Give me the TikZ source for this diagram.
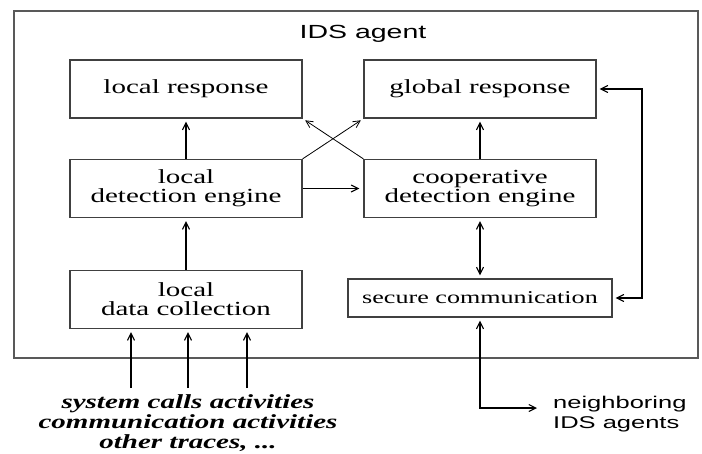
\documentclass[tikz,border=0pt]{standalone}
\usepackage{fontspec}
\usetikzlibrary{arrows.meta}
\newfontfamily\boxfont[FakeStretch=1.45]{Liberation Serif}
\newfontfamily\sansfnt[FakeStretch=1.5]{Liberation Sans}
\tikzset{
  blk/.style={draw=black!75, line width=1.3pt, fill=white, minimum width=232pt, minimum height=58pt,
    inner sep=0pt, align=center, font=\boxfont\fontsize{20}{19}\selectfont},
  arr/.style={line width=1.1pt, -{Straight Barb[length=7pt,width=7pt]}},
  darr/.style={line width=1.1pt, {Straight Barb[length=7pt,width=7pt]}-{Straight Barb[length=7pt,width=7pt]}},
}
\begin{document}
\begin{tikzpicture}[x=1pt,y=-1pt]
\useasboundingbox (0,0) rectangle (702,453);
\fill[white] (0,0) rectangle (702,453);
% outer box
\draw[draw=black!65, line width=1.8pt] (14,11) rectangle (698,358);
\node[font=\sansfnt\fontsize{19}{19}\selectfont] (title) at (363,34) {IDS agent};
% boxes
\node[blk] (lr) at (186,89) {local response};
\node[blk] (gr) at (480,89) {global response};
\node[blk] (lde) at (186,188.5) {local\\detection engine};
\node[blk] (cde) at (480,188.5) {cooperative\\detection engine};
\node[blk] (ldc) at (186,299.5) {local\\data collection};
\node[blk, minimum width=264pt, minimum height=38pt, font=\boxfont\fontsize{18}{18}\selectfont] (sc) at (480,298) {secure communication};
% arrows
\draw[arr, shorten >=3pt] (lde.north) -- (lr.south);
\draw[arr, shorten >=3pt] (ldc.north) -- (lde.south);
\draw[arr, shorten >=3pt] (cde.north) -- (gr.south);
\draw[arr, shorten >=4pt] (lde.east) -- (cde.west);
\draw[arr, line width=0.8pt, shorten >=3pt] (lde.north east) -- (gr.south west);
\draw[arr, line width=0.8pt, shorten >=3pt] (cde.north west) -- (lr.south east);
\draw[darr, shorten >=3pt, shorten <=3pt] (cde.south) -- (sc.north);
% right loop
\coordinate (rt) at (642,89);
\draw[darr, shorten >=3pt, shorten <=3pt] (gr.east) -- (rt) |- (sc.east);
% neighbors
\coordinate (nb) at (537,408);
\draw[darr, shorten <=3pt] (sc.south) |- (nb);
\node[anchor=west, align=left, inner sep=0pt, font=\sansfnt\fontsize{17}{20}\selectfont] (nbt) at (553,414) {neighboring\\IDS agents};
% inputs
\coordinate (i1) at (131,388);
\coordinate (i2) at (188,388);
\coordinate (i3) at (247,388);
\draw[arr, shorten >=3pt] (i1) -- (i1 |- ldc.south);
\draw[arr, shorten >=3pt] (i2) -- (i2 |- ldc.south);
\draw[arr, shorten >=3pt] (i3) -- (i3 |- ldc.south);
\node[align=center, inner sep=0pt, font=\boxfont\fontsize{20}{20}\selectfont\bfseries\itshape] (src) at (188,423)
  {system calls activities\\communication activities\\other traces, ...};
\end{tikzpicture}
\end{document}
